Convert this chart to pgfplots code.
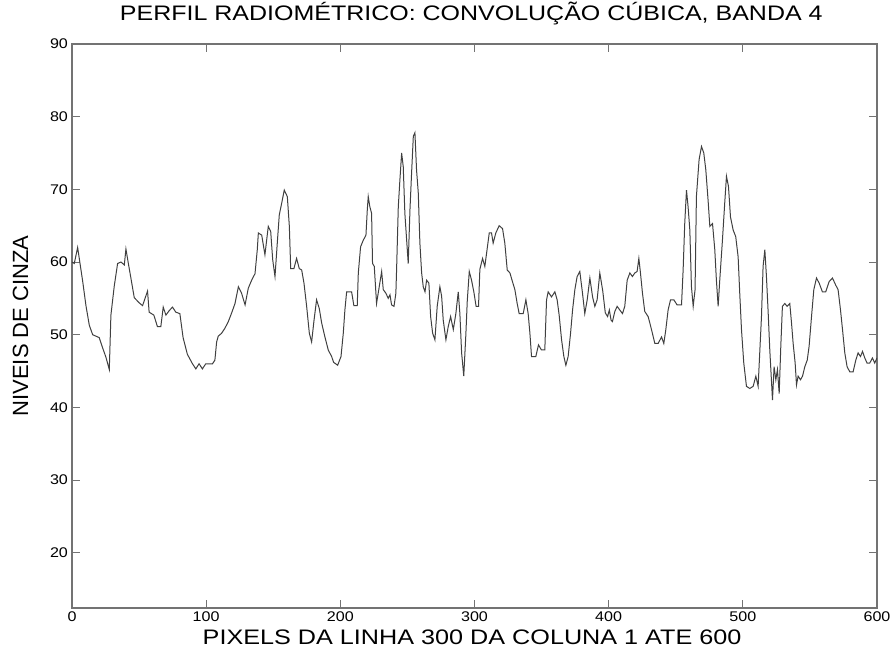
\documentclass[border=0pt]{standalone}
\usepackage{fontspec}
\setmainfont{Liberation Sans}
\usepackage{pgfplots}
\pgfplotsset{compat=1.18}

\definecolor{axisgray}{gray}{0.45}
\definecolor{linegray}{gray}{0.25}

\begin{document}
\begin{tikzpicture}
\useasboundingbox (-72pt,-52pt) rectangle (823pt,608pt);
\begin{axis}[
    scale only axis,
    width=805pt, height=564pt,
    xmin=0, xmax=600,
    ymin=12.4, ymax=90,
    xtick={0,100,...,600},
    ytick={20,30,...,90},
    tick align=inside,
    xtick pos=both, ytick pos=both,
    major tick length=8pt,
    axis line style={axisgray, line width=1.2pt},
    every tick/.style={axisgray, line width=1pt},
    /pgf/number format/assume math mode=true,
    tick label style={font=\fontsize{14}{17}\selectfont, xscale=1.15},
    title={PERFIL RADIOMÉTRICO: CONVOLUÇÃO CÚBICA, BANDA 4},
    title style={at={(axis description cs:0.496,1.0426)}, anchor=center,
        font=\fontsize{21}{25}\selectfont, xscale=1.19},
    xlabel={PIXELS DA LINHA 300 DA COLUNA 1 ATE 600},
    xlabel style={at={(axis description cs:0.497,-0.0514)}, anchor=center,
        font=\fontsize{21}{25}\selectfont, xscale=1.2},
    ylabel={NIVEIS DE CINZA},
    ylabel style={at={(axis description cs:-0.064,0.5)}, anchor=center,
        font=\fontsize{22}{26}\selectfont},
]
\addplot[linegray, line width=1pt] coordinates {
(0,60)(1.7,59.8)(4.2,62)(5.5,60.4)(8,57.3)(10.4,54)(12.9,51.3)(15.4,50)
(20.3,49.6)(22.8,48.2)(25.3,46.9)(27.8,45.2)(29,52.7)(31.5,56.7)(34,59.8)
(36.5,60)(39,59.6)(40.2,61.8)(42,59.8)(43.9,57.8)(46.4,55.1)(50,54.4)
(52.6,54)(56.3,56)(57.5,53.1)(61,52.7)(63.7,51.1)(66.2,51.1)(68,53.8)
(70,52.7)(72.4,53.3)(74.9,53.8)(77.4,53.1)(80.4,52.9)(82.8,49.6)(86,47.3)
(89.8,46)(92.3,45.3)(94.7,46)(97.2,45.3)(99.7,46)(104.7,46)(106.5,46.5)
(107.8,49)(109,49.8)(111.5,50.2)(114,50.9)(116.5,51.8)(119,53)(121.5,54.3)
(124,56.6)(126.4,55.7)(129,54.1)(131.4,56.4)(133.9,57.5)(136.4,58.4)
(138.1,61.7)(138.9,64)(141.4,63.7)(143.8,61)(146.3,64.9)(148.1,64.2)
(149.6,60.3)(151.3,58)(153,62.6)(154.5,66.5)(156.3,68.1)(158.2,69.9)
(160.5,69)(162,64.9)(163,59.1)(165.4,59.1)(167.4,60.5)(169.4,59.1)
(171.2,58.9)(172.9,57.1)(174.9,53.9)(176.9,50.2)(178.6,49)(180.4,52)
(182.3,54.8)(184.3,53.6)(186.1,51.6)(188.5,49.7)(191,47.9)(193.5,47)
(195,46.2)(198,45.8)(200.5,47)(202.2,50.2)(203.4,53.4)(204.7,55.9)
(208.4,55.9)(210.1,54)(212.6,54)(213.4,58.5)(215.1,62.1)(217.1,63)
(219.1,63.7)(220.1,67.2)(220.8,69)(222,67.6)(223.3,66.7)(224,59.8)
(225.3,59.4)(227,54.3)(229,56.6)(230.8,58.7)(232,56.2)(234,55.7)(235.7,55)
(237,55.5)(238.2,54.1)(240,53.9)(241.4,55.7)(242,59.4)(243.2,67.6)
(244.4,71.3)(245.7,75)(246.9,73.1)(248.1,66.7)(249.4,63.1)(250.6,59.8)
(251.9,67.2)(253.1,72.2)(254.4,77.3)(255.6,77.8)(256.8,72.7)(258.1,69.5)
(259.3,62.6)(260.6,58.5)(261.8,56.6)(263.1,55.9)(264.3,57.5)(266,57.1)
(267.3,52.5)(268.8,50.2)(270.5,49.3)(272.2,53.9)(274.2,56.6)(275.5,55.3)
(276.7,52)(278.7,49.3)(280.4,51.1)(282.2,52.5)(284.2,50.7)(286.1,52.9)
(287.9,55.9)(289.1,52.9)(290.4,47.5)(292,44.3)(293.6,50.2)(294.6,54.6)
(296.1,58.7)(297.8,57.5)(299.5,55.9)(301.2,53.9)(303,53.9)(304,59)
(306,60.5)(307.7,59.4)(309,61.2)(311,64)(312.7,64)(313.9,62.6)(315.9,64)
(318.4,65)(320.9,64.6)(322.6,62.6)(324.4,58.9)(326.4,58.5)(328.3,57.3)
(330.1,56.2)(331.8,54.3)(333.3,52.9)(336.3,52.9)(338.3,54.8)(340,52.9)
(341.3,50.2)(342.5,47)(345.7,47)(347.7,48.6)(349.9,47.9)(352.4,47.9)
(353.7,54.8)(354.9,55.9)(357.4,55.2)(359.9,55.9)(361.6,54.8)(363.1,52.7)
(364.9,49.3)(366.6,47)(368.1,45.8)(369.8,47)(371.6,50.2)(373.1,53.4)
(374.8,56.2)(376.5,58)(378.5,58.7)(380.5,55.7)(382.2,52.9)(384,54.8)
(386,57.8)(388,55.2)(389.7,53.9)(391.4,54.8)(393.4,58.5)(395.6,56)
(397.5,53)(399.2,52.5)(400.5,53.4)(401.8,52)(402.8,51.8)(404.6,53.2)
(406.3,53.9)(408.3,53.4)(410.3,52.9)(412,53.9)(413.8,57.5)(415.8,58.5)
(417.7,58)(419.5,58.5)(421.2,58.7)(422.5,60.5)(423.7,58.5)(425.2,55.7)
(426.9,53.2)(429.4,52.5)(430.7,51.6)(432.6,50.2)(434.4,48.8)(436.9,48.8)
(439.4,49.7)(441.1,48.8)(442.6,50.7)(444.3,53.4)(446.1,54.8)(448.6,54.8)
(451,54.1)(454.3,54.1)(455.5,58.9)(456.7,65.3)(458,69.9)(459.2,67.6)
(460.5,64.4)(461.7,56.6)(463,53.9)(464.4,56.2)(465.4,69)(467.4,74.1)
(469.2,75.9)(470.9,75)(472.4,72.7)(474.1,68.5)(475.4,64.9)(477.4,65.3)
(479.1,61.7)(480.3,57.5)(481.6,53.9)(482.8,57.5)(484.8,63)(486.5,68.1)
(487.8,71.8)(489.3,70.4)(490.8,66.2)(492.8,64.4)(494.7,63.5)(496.5,60.7)
(497.7,55.7)(499,50.7)(500.7,46.1)(502.7,42.9)(505.2,42.6)(507.7,42.9)
(509.7,44.3)(511.4,42.9)(512.7,47.9)(513.9,52.5)(515.1,59.4)(516.4,61.7)
(517.6,58)(518.9,53)(520.1,47.9)(521.3,43.8)(522.1,41)(523.3,45.6)
(524.6,43.8)(525.8,45.2)(527.1,41.9)(528.3,48.4)(529.5,53.9)(531.3,54.3)
(533,53.9)(535,54.3)(536.3,51.6)(537.5,48.8)(539,46.1)(540,43.1)
(541.2,44.3)(543,43.8)(544.5,44.3)(546.2,45.6)(548,46.5)(549.4,48.4)
(551.2,52.5)(552.9,56.2)(554.9,57.8)(556.9,57.1)(559.3,55.9)(561.8,55.9)
(564.3,57.3)(566.8,57.8)(569.3,56.8)(571,56.2)(572.8,53.4)(574.3,50.7)
(576,47.5)(577.7,45.6)(579.7,44.9)(582.2,44.9)(584.2,46.5)(585.9,47.5)
(587.7,47)(589.2,47.7)(590.9,46.8)(592.6,46.1)(594.6,46.1)(596.6,46.8)
(598.3,46.1)(600,46.8)
};
\end{axis}
\end{tikzpicture}
\end{document}
